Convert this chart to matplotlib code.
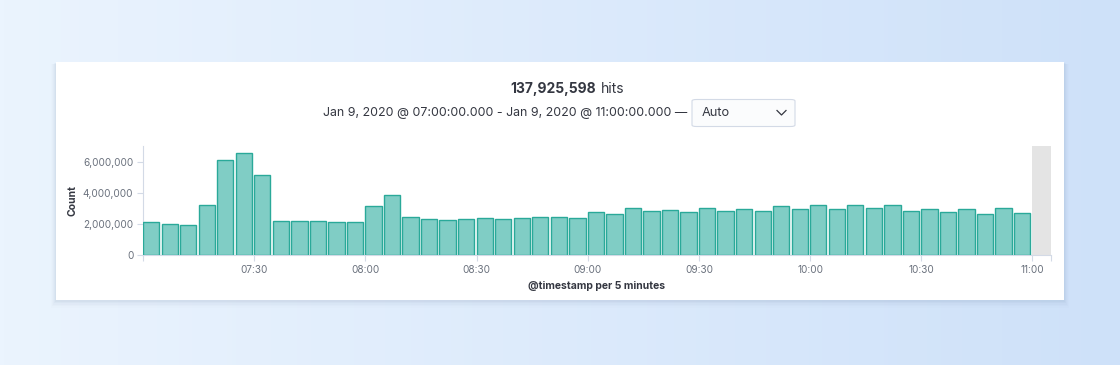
import datetime as dt
import numpy as np
import matplotlib
matplotlib.use("Agg")
import matplotlib.pyplot as plt
from matplotlib.patches import Rectangle, FancyBboxPatch
from matplotlib.ticker import FuncFormatter

plt.rcParams["font.family"] = ["Inter", "DejaVu Sans"]

# hits per 5 minute bucket, 07:00 -> 11:00
counts = [
    2.09, 1.99, 1.92, 3.18, 6.11, 6.52, 5.11, 2.18, 2.18, 2.16, 2.12, 2.12,
    3.14, 3.87, 2.44, 2.31, 2.24, 2.31, 2.35, 2.33, 2.35, 2.41, 2.41, 2.37,
    2.76, 2.63, 3.01, 2.80, 2.91, 2.76, 3.01, 2.80, 2.93, 2.84, 3.12, 2.93,
    3.18, 2.93, 3.18, 3.03, 3.22, 2.80, 2.95, 2.73, 2.93, 2.63, 2.99, 2.69,
]
counts = [c * 1e6 for c in counts]
start = dt.datetime(2020, 1, 9, 7, 0)
end = dt.datetime(2020, 1, 9, 11, 0)
tick_labels = ["", "07:30", "08:00", "08:30", "09:00", "09:30", "10:00", "10:30", "11:00"]
total_hits = "137,925,598"
date_range = "Jan 9, 2020 @ 07:00:00.000 - Jan 9, 2020 @ 11:00:00.000 \u2014"

W, H = 1120, 365
fig = plt.figure(figsize=(W / 100, H / 100), dpi=100)

# page background gradient
bg = fig.add_axes([0, 0, 1, 1], zorder=-10)
grad = np.linspace(0, 1, 256).reshape(1, -1)
cmap = matplotlib.colors.LinearSegmentedColormap.from_list("bg", ["#ebf4fe", "#cee1f9"])
bg.imshow(grad, aspect="auto", cmap=cmap, extent=[0, 1, 0, 1])
bg.set_xlim(0, 1)
bg.set_ylim(0, 1)
bg.axis("off")

# card with soft shadow
cx0, cy0, cx1, cy1 = 56, 62, 1064, 300
for i, a in enumerate([0.045, 0.035, 0.025, 0.018, 0.012]):
    s = i + 1
    bg.add_patch(Rectangle(((cx0 - s) / W, 1 - (cy1 + s * 1.5) / H),
                           (cx1 - cx0 + 2 * s) / W, (cy1 - cy0 + s) / H,
                           facecolor="#5a7096", alpha=a, lw=0))
bg.add_patch(Rectangle((cx0 / W, 1 - cy1 / H), (cx1 - cx0) / W, (cy1 - cy0) / H,
                       facecolor="white", lw=0))

# header text
fig.text(510 / W, 1 - 89 / H, total_hits, ha="left", va="center", fontsize=10,
         fontweight="bold", color="#343741")
fig.text(601 / W, 1 - 89 / H, "hits", ha="left", va="center", fontsize=10, color="#343741")
fig.text(687 / W, 1 - 113 / H, date_range, ha="right", va="center", fontsize=8.9,
         color="#343741")

# interval dropdown
bg.add_patch(FancyBboxPatch((692 / W, 1 - 126.5 / H), (795 - 692) / W, 27 / H,
                            boxstyle="round,pad=0,rounding_size=0.004",
                            facecolor="#fbfcfd", edgecolor="#d3dae6", lw=0.8))
fig.text(702 / W, 1 - 113.5 / H, "Auto", ha="left", va="center", fontsize=9.2, color="#343741")
bg.plot([777 / W, 781.5 / W, 786 / W], [1 - 110.5 / H, 1 - 115 / H, 1 - 110.5 / H],
        color="#343741", lw=0.9)

# chart
ax = fig.add_axes([143 / W, 1 - 255 / H, (1051 - 143) / W, (255 - 146) / H])
step = dt.timedelta(minutes=5)
times = [start + i * step for i in range(len(counts))]
ax.bar(times, counts, width=step * 0.88, align="edge", color="#80cdc5",
       edgecolor="#2aa999", linewidth=1.0, zorder=3)
ax.axvspan(end, end + step, color="#e4e4e4", lw=0, zorder=1)

ax.set_xlim(start, end + step)
ax.set_ylim(0, 7.0e6)
ax.set_yticks([0, 2e6, 4e6, 6e6])
ax.yaxis.set_major_formatter(FuncFormatter(lambda v, p: f"{int(v):,}"))
xt = [start + dt.timedelta(minutes=30 * i) for i in range(len(tick_labels))]
ax.set_xticks(xt + [end + step])
ax.set_xticklabels(tick_labels + [""])

for side in ["top", "right"]:
    ax.spines[side].set_visible(False)
for side in ["left", "bottom"]:
    ax.spines[side].set_color("#d3dae6")
    ax.spines[side].set_linewidth(0.8)
ax.tick_params(axis="both", colors="#d3dae6", length=4, width=0.8, labelsize=7.2,
               labelcolor="#6a717d", pad=3)
ax.set_facecolor("none")

ax.set_ylabel("Count", fontsize=7.5, fontweight="bold", color="#343741")
ax.yaxis.set_label_coords((77 - 143) / (1051 - 143), 0.5)
ax.set_xlabel("@timestamp per 5 minutes", fontsize=7.5, fontweight="bold",
              color="#343741")
ax.xaxis.set_label_coords((597 - 143) / (1051 - 143), -0.24)

fig.savefig("out.png", dpi=100)
